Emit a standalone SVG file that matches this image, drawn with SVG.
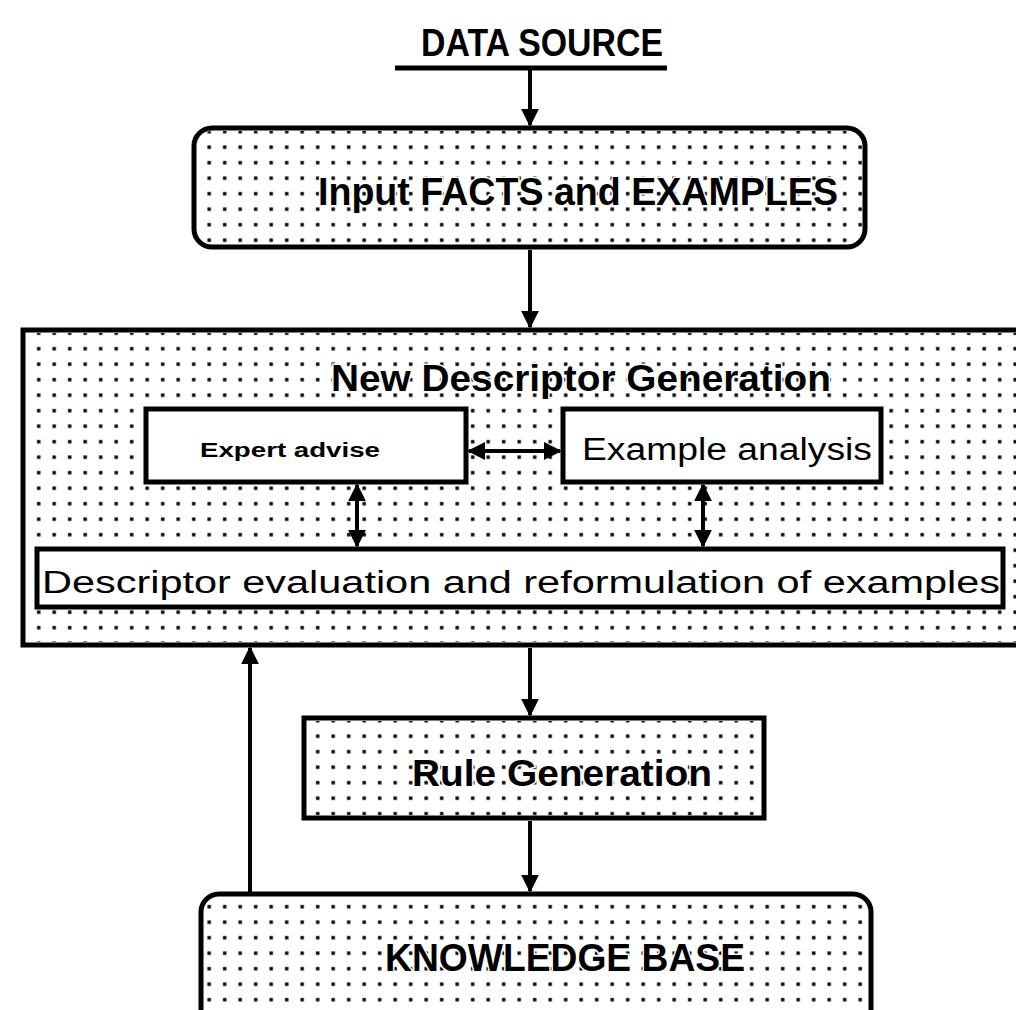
<svg xmlns="http://www.w3.org/2000/svg" width="1016" height="1010" viewBox="0 0 1016 1010">
<defs>
<pattern id="dots" x="0" y="0" width="15.5" height="15.5" patternUnits="userSpaceOnUse">
<rect x="6" y="6" width="3.4" height="3.4" fill="#000"/>
</pattern>
<marker id="ah" viewBox="0 0 10 10" refX="9" refY="5" markerWidth="4.5" markerHeight="4.5" markerUnits="strokeWidth" orient="auto-start-reverse">
<path d="M0,0 L10,5 L0,10 z" fill="#000"/>
</marker>
<style>
.box{stroke:#000;stroke-width:5;}
.dot{fill:url(#dots);}
.b{font-family:"Liberation Sans",Arial,sans-serif;font-weight:bold;fill:#000;stroke:#fff;stroke-width:3;paint-order:stroke;}
.r{font-family:"Liberation Sans",Arial,sans-serif;fill:#000;}
.ln{stroke:#000;stroke-width:4;fill:none;}
</style>
</defs>
<rect width="1016" height="1010" fill="#fff"/>

<g id="data-source">
<text class="b" x="542" y="56" font-size="38" text-anchor="middle" textLength="242" lengthAdjust="spacingAndGlyphs">DATA SOURCE</text>
<line x1="395" y1="68" x2="667" y2="68" stroke="#000" stroke-width="5"/>
</g>

<g id="input-facts">
<rect class="box" x="194" y="128" width="671" height="119" rx="18" fill="#fff"/>
<rect class="dot" x="197" y="131" width="665" height="113" rx="15"/>
<text class="b" x="578" y="205" font-size="38" text-anchor="middle" textLength="520" lengthAdjust="spacingAndGlyphs">Input FACTS and EXAMPLES</text>
</g>

<g id="new-descriptor-generation">
<rect class="box" x="23" y="330" width="1010" height="315" fill="#fff"/>
<rect class="dot" x="26" y="333" width="990" height="309"/>
<text class="b" x="581" y="391" font-size="36" text-anchor="middle" textLength="500" lengthAdjust="spacingAndGlyphs">New Descriptor Generation</text>
</g>

<g id="expert-advise">
<rect class="box" x="146" y="409" width="320" height="73" fill="#fff"/>
<text class="b" x="290" y="457" font-size="20" text-anchor="middle" textLength="180" lengthAdjust="spacingAndGlyphs">Expert advise</text>
</g>

<g id="example-analysis">
<rect class="box" x="563" y="409" width="318" height="73" fill="#fff"/>
<text class="r" x="727" y="460" font-size="31" text-anchor="middle" textLength="290" lengthAdjust="spacingAndGlyphs">Example analysis</text>
</g>

<g id="descriptor-evaluation">
<rect class="box" x="37" y="549" width="966" height="58" fill="#fff"/>
<text class="r" x="521" y="593" font-size="31" text-anchor="middle" textLength="958" lengthAdjust="spacingAndGlyphs">Descriptor evaluation and reformulation of examples</text>
</g>

<g id="rule-generation">
<rect class="box" x="304" y="718" width="460" height="100" fill="#fff"/>
<rect class="dot" x="307" y="721" width="454" height="94"/>
<text class="b" x="562" y="786" font-size="36" text-anchor="middle" textLength="300" lengthAdjust="spacingAndGlyphs">Rule Generation</text>
</g>

<g id="knowledge-base">
<rect class="box" x="201" y="894" width="670" height="140" rx="18" fill="#fff"/>
<rect class="dot" x="204" y="897" width="664" height="134" rx="15"/>
<text class="b" x="565" y="971" font-size="38" text-anchor="middle" textLength="360" lengthAdjust="spacingAndGlyphs">KNOWLEDGE BASE</text>
</g>

<g id="connectors">
<line class="ln" x1="530" y1="70" x2="530" y2="125" marker-end="url(#ah)"/>
<line class="ln" x1="530" y1="250" x2="530" y2="327" marker-end="url(#ah)"/>
<line class="ln" x1="469" y1="451" x2="560" y2="451" marker-start="url(#ah)" marker-end="url(#ah)"/>
<line class="ln" x1="357" y1="485" x2="357" y2="546" marker-start="url(#ah)" marker-end="url(#ah)"/>
<line class="ln" x1="703" y1="485" x2="703" y2="546" marker-start="url(#ah)" marker-end="url(#ah)"/>
<line class="ln" x1="530" y1="648" x2="530" y2="715" marker-end="url(#ah)"/>
<line class="ln" x1="530" y1="821" x2="530" y2="891" marker-end="url(#ah)"/>
<line class="ln" x1="250" y1="892" x2="250" y2="648" marker-end="url(#ah)"/>
</g>
</svg>
